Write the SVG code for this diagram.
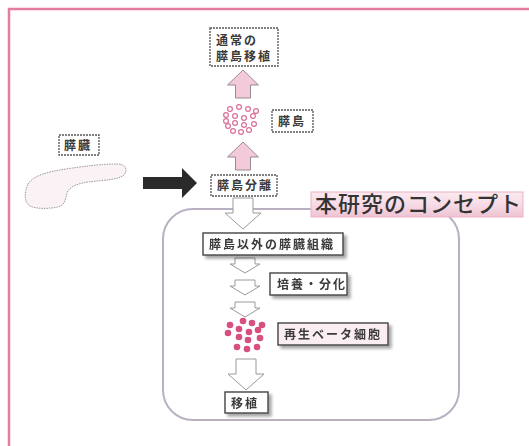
<svg xmlns="http://www.w3.org/2000/svg" width="529" height="446" viewBox="0 0 529 446">
  <defs>
    <style>
      .lbl { font-family: "Noto Sans CJK JP", "Noto Sans", sans-serif; font-size: 12px; font-weight: 700; fill: #3a3a3a; letter-spacing: 2px; }
      .box { fill: #ffffff; stroke: #444444; stroke-width: 1.4; }
      .dot-box { fill: #ffffff; stroke: #555555; stroke-width: 1.3; stroke-dasharray: 2 1; }
      .pink-arrow { fill: #f2cada; stroke: #9a8a95; stroke-width: 1; }
      .white-arrow { fill: #ffffff; stroke: #9a9a9a; stroke-width: 1; }
      .islet { fill: #ffffff; stroke: #d8709a; stroke-width: 1.2; }
      .beta { fill: #d64f80; }
    </style>
    <filter id="shadow" x="-10%" y="-20%" width="130%" height="160%">
      <feGaussianBlur in="SourceAlpha" stdDeviation="1.8"/>
      <feOffset dx="3" dy="3" result="b"/>
      <feComponentTransfer><feFuncA type="linear" slope="0.35"/></feComponentTransfer>
      <feMerge><feMergeNode/><feMergeNode in="SourceGraphic"/></feMerge>
    </filter>
    <linearGradient id="titleGrad" x1="0" y1="0" x2="0" y2="1">
      <stop offset="0" stop-color="#fbe9f0"/>
      <stop offset="0.5" stop-color="#f7dbe6"/>
      <stop offset="1" stop-color="#efc3d3"/>
    </linearGradient>
    <!-- block arrow shapes pointing up / down, centred on x=0 -->
    <path id="upArrow" d="M0 0 L15.5 15 L7.5 15 L7.5 28 L-7.5 28 L-7.5 15 L-15.5 15 Z"/>
    <path id="downArrow" d="M-10 0 L10 0 L10 15 L18 15 L0 31 L-18 15 L-10 15 Z"/>
    <path id="smallDown" d="M-10 0 L10 0 L10 6 L15 6 L0 15 L-15 6 L-10 6 Z"/>
  </defs>

  <rect width="529" height="446" fill="#ffffff"/>

  <!-- outer frame -->
  <path d="M529 9 H9 V446" fill="none" stroke="#e37c9d" stroke-width="2.5"/>

  <!-- concept region -->
  <rect x="163" y="209" width="296" height="211" rx="30" fill="none" stroke="#b9b1c2" stroke-width="2"/>

  <!-- connectors -->
  <g id="connectors">
    <use href="#upArrow" class="pink-arrow" x="243" y="70"/>
    <use href="#upArrow" class="pink-arrow" x="243" y="142"/>
    <path d="M143 177 H182 V168 L197 183 L182 198 V189 H143 Z" fill="#2a2a2a"/>
    <use href="#downArrow" class="white-arrow" x="243" y="198"/>
    <use href="#smallDown" class="white-arrow" x="245" y="258"/>
    <use href="#smallDown" class="white-arrow" x="245" y="280"/>
    <use href="#smallDown" class="white-arrow" x="245" y="302"/>
    <use href="#downArrow" class="white-arrow" x="246" y="359"/>
  </g>

  <g id="normal-transplant">
    <rect class="dot-box" x="210" y="28" width="68" height="38"/>
    <text class="lbl" x="216" y="45">通常の</text>
    <text class="lbl" x="216" y="61">膵島移植</text>
  </g>

  <g id="islets">
    <circle class="islet" cx="230" cy="109" r="2.4"/>
    <circle class="islet" cx="239" cy="107" r="2.4"/>
    <circle class="islet" cx="248" cy="109" r="2.4"/>
    <circle class="islet" cx="256" cy="111" r="2.4"/>
    <circle class="islet" cx="226" cy="115" r="2.4"/>
    <circle class="islet" cx="235" cy="116" r="2.4"/>
    <circle class="islet" cx="244" cy="118" r="2.4"/>
    <circle class="islet" cx="253" cy="116" r="2.4"/>
    <circle class="islet" cx="226" cy="121" r="2.4"/>
    <circle class="islet" cx="235" cy="123" r="2.4"/>
    <circle class="islet" cx="244" cy="125" r="2.4"/>
    <circle class="islet" cx="254" cy="124" r="2.4"/>
    <circle class="islet" cx="228" cy="126" r="2.4"/>
    <circle class="islet" cx="233" cy="131" r="2.4"/>
    <circle class="islet" cx="241" cy="132" r="2.4"/>
    <circle class="islet" cx="249" cy="130" r="2.4"/>
  </g>

  <g id="islet-label">
    <rect class="dot-box" x="272" y="110" width="41" height="22"/>
    <text class="lbl" x="278" y="126">膵島</text>
  </g>

  <g id="pancreas-label">
    <rect class="dot-box" x="59" y="135" width="40" height="20"/>
    <text class="lbl" x="64" y="150">膵臓</text>
  </g>

  <g id="pancreas">
    <path d="M28 184 C33 176 46 172 66 169 C85 166 103 164 117 164 C126 164 128 170 124 175 C118 180 104 180 88 182 C76 184 69 187 67 193 C65 200 65 205 58 207 C48 209 36 209 30 206 C24 202 24 193 28 184 Z" fill="#fbf2f6" stroke="#9a9a9a" stroke-width="1" stroke-dasharray="1.5 1"/>
  </g>

  <g id="islet-isolation">
    <rect class="dot-box" x="211" y="175" width="66" height="21"/>
    <text class="lbl" x="217" y="190">膵島分離</text>
  </g>

  <g id="concept-title">
    <rect x="311" y="192" width="212" height="25" fill="url(#titleGrad)" stroke="#e9b3c6" stroke-width="1"/>
    <text x="315" y="212" font-family="Noto Sans CJK JP, Noto Sans, sans-serif" font-size="22" font-weight="500" letter-spacing="1" fill="#333333">本研究のコンセプト</text>
  </g>

  <g id="other-tissue" filter="url(#shadow)">
    <rect class="box" x="203" y="233" width="140" height="22"/>
    <text class="lbl" x="209" y="249">膵島以外の膵臓組織</text>
  </g>

  <g id="culture" filter="url(#shadow)">
    <rect class="box" x="270" y="273" width="77" height="22"/>
    <text class="lbl" x="277" y="289">培養・分化</text>
  </g>

  <g id="beta-cells">
    <circle class="beta" cx="243" cy="321" r="3.3"/>
    <circle class="beta" cx="252" cy="323" r="3.3"/>
    <circle class="beta" cx="262" cy="325" r="3.3"/>
    <circle class="beta" cx="230" cy="325" r="3.3"/>
    <circle class="beta" cx="239" cy="329" r="3.3"/>
    <circle class="beta" cx="249" cy="332" r="3.3"/>
    <circle class="beta" cx="258" cy="330" r="3.3"/>
    <circle class="beta" cx="228" cy="333" r="3.3"/>
    <circle class="beta" cx="239" cy="337" r="3.3"/>
    <circle class="beta" cx="248" cy="340" r="3.3"/>
    <circle class="beta" cx="260" cy="338" r="3.3"/>
    <circle class="beta" cx="237" cy="347" r="3.3"/>
    <circle class="beta" cx="247" cy="349" r="3.3"/>
    <circle class="beta" cx="257" cy="347" r="3.3"/>
  </g>

  <g id="regenerated-beta" filter="url(#shadow)">
    <rect x="278" y="323" width="110" height="22" fill="#fbeef3" stroke="#444444" stroke-width="1.4"/>
    <text class="lbl" x="284" y="339">再生ベータ細胞</text>
  </g>

  <g id="transplant" filter="url(#shadow)">
    <rect class="box" x="225" y="392" width="43" height="21"/>
    <text class="lbl" x="231" y="408">移植</text>
  </g>
</svg>
